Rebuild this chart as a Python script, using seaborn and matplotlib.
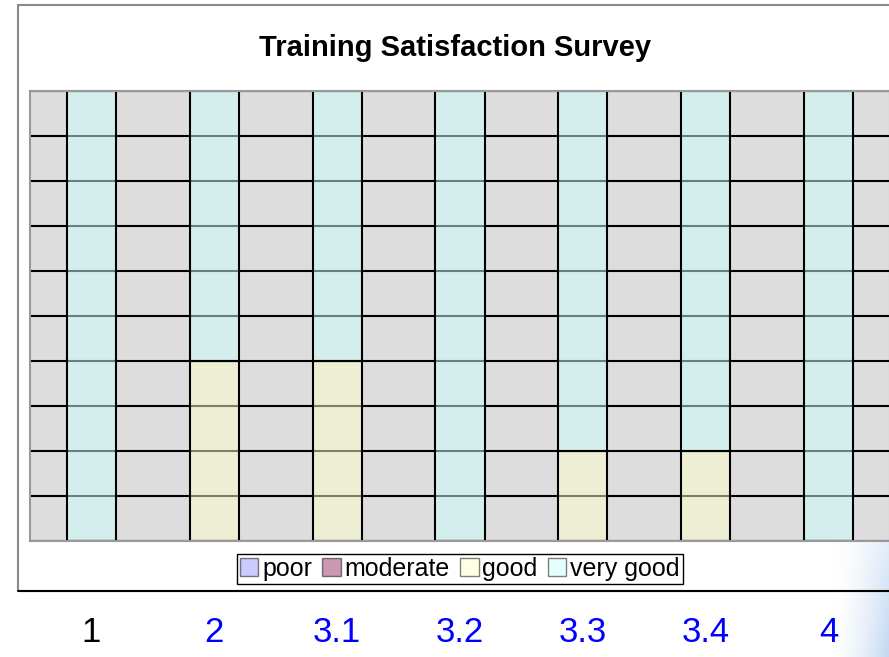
import numpy as np
import pandas as pd
import seaborn as sns
import matplotlib.pyplot as plt
from matplotlib.patches import Patch, Rectangle
from matplotlib.lines import Line2D

# survey data (percent of answers per item)
items = ["1", "2", "3.1", "3.2", "3.3", "3.4", "4"]
ratings = ["poor", "moderate", "good", "very good"]
poor = [0, 0, 0, 0, 0, 0, 0]
moderate = [0, 0, 0, 0, 0, 0, 0]
good = [0, 40, 40, 0, 20, 20, 0]
very_good = [100, 60, 60, 100, 80, 80, 100]
colors = ["#9999FF", "#993366", "#FFFFCC", "#CCFFFF"]
label_colors = ["black", "blue", "blue", "blue", "blue", "blue", "blue"]

rows = []
for name, vals in zip(ratings, [poor, moderate, good, very_good]):
    for i, v in enumerate(vals):
        rows.append({"item": i, "rating": name, "pct": v})
df = pd.DataFrame(rows)

sns.set_theme(style="white")
plt.rcParams["font.family"] = ["Liberation Sans", "DejaVu Sans"]
plt.rcParams["text.color"] = "black"

W, H = 889, 657
fig = plt.figure(figsize=(W / 100, H / 100), dpi=100)
fig.patch.set_facecolor("white")

# soft blue glow in the lower right corner (slide background), row 0 = top
px = np.arange(W)[None, :]
py = np.arange(H)[:, None]
hx = np.clip((px - 830) / 59.0, 0, 1) ** 1.6
vy = np.clip((py - 535) / 122.0, 0, 1)
glow = np.zeros((H, W, 4))
glow[..., 0] = 0.76
glow[..., 1] = 0.84
glow[..., 2] = 0.95
glow[..., 3] = hx * (0.45 + 0.55 * vy) * (py > 535)
fig.figimage(glow, xo=0, yo=0, origin="upper", zorder=0)

# chart frame
fig.add_artist(Rectangle((18 / W, 66 / H), 1, 586 / H, transform=fig.transFigure,
                         fill=False, edgecolor="#8a8a8a", lw=1.5, zorder=1))
fig.add_artist(Line2D([18 / W, 1], [66 / H, 66 / H], transform=fig.transFigure,
                      color="black", lw=1.5, zorder=2))

ax = fig.add_axes([30 / W, 116 / H, 860 / W, 450 / H], zorder=3)
ax.set_facecolor("#dddddd")

sns.histplot(data=df, x="item", hue="rating", weights="pct",
             hue_order=ratings[::-1], multiple="stack", discrete=True,
             shrink=0.4, palette=dict(zip(ratings, colors)), alpha=0.5,
             edgecolor="black", linewidth=1.5, legend=False, ax=ax)

ax.set_xlim(-0.5, 6.5)
ax.set_ylim(0, 100)
ax.set_yticks(range(0, 101, 10))
ax.yaxis.grid(True, color="black", lw=1.5)
ax.xaxis.grid(False)
ax.set_axisbelow(True)
ax.set_xlabel("")
ax.set_ylabel("")
ax.set_xticks(range(len(items)), items)
ax.tick_params(axis="x", length=0, pad=54, labelsize=25)
ax.tick_params(axis="y", length=0, labelleft=False)
for lab, c in zip(ax.get_xticklabels(), label_colors):
    lab.set_color(c)
for s in ax.spines.values():
    s.set_color("#999999")
    s.set_linewidth(1.5)

handles = [Patch(facecolor=c, alpha=0.5, edgecolor="black", lw=1) for c in colors]
leg = ax.legend(handles, ratings, ncol=4, loc="center",
                bbox_to_anchor=(459.5 / W, (H - 569) / H), bbox_transform=fig.transFigure,
                frameon=True, fancybox=False, edgecolor="black", framealpha=1,
                fontsize=18, handlelength=0.75, handleheight=0.75, handletextpad=0.15,
                columnspacing=0.4, borderpad=0.12, borderaxespad=0)
leg.get_frame().set_linewidth(1)
for t in leg.get_texts():
    t.set_color("black")

fig.text(455 / W, (H - 48) / H, "Training Satisfaction Survey", ha="center", va="center",
         fontsize=21, fontweight="bold", color="black")

fig.savefig("out.png", dpi=100)
